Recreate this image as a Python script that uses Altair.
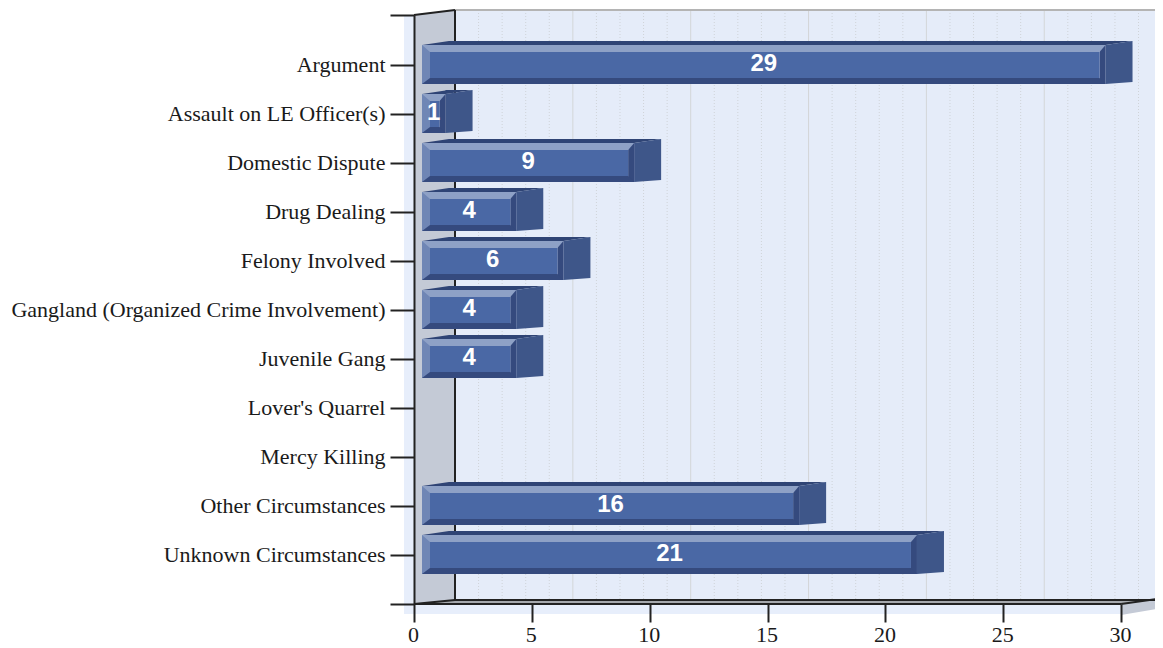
import json
import altair as alt
import pandas as pd

categories = ["Argument", "Assault on LE Officer(s)", "Domestic Dispute", "Drug Dealing",
              "Felony Involved", "Gangland (Organized Crime Involvement)", "Juvenile Gang",
              "Lover's Quarrel", "Mercy Killing", "Other Circumstances", "Unknown Circumstances"]
values = [29, 1, 9, 4, 6, 4, 4, 0, 0, 16, 21]
x_ticks = [0, 5, 10, 15, 20, 25, 30]

PX_PER_X, PX_PER_ROW = 23.57, 49.0
W, H = 741, 589
LEFT, TOP = 414, 15
def X(px): return (px - LEFT) / PX_PER_X
def Y(px): return (px - 65) / PX_PER_ROW

xs = alt.Scale(domain=[0, W / PX_PER_X], nice=False, zero=False)
y_top, y_bot = Y(TOP), Y(TOP + H)
ys = alt.Scale(domain=[y_bot, y_top], nice=False, zero=False)

label_expr = ("datum.value >= 0 && datum.value < %d ? %s[datum.value] : ''"
              % (len(categories), json.dumps(categories)))
y_vals = [y_top] + list(range(len(categories))) + [y_bot]
x_axis = alt.Axis(values=x_ticks, title=None, grid=False, domain=False, tickSize=18,
                  tickWidth=2, tickColor="#222222", labelFont="Liberation Serif", labelFontSize=22,
                  labelColor="#1a1a1a", labelPadding=2, labelOverlap=False, labelFlush=False, format="d",
                  labelOffset=-1, zindex=2)
y_axis = alt.Axis(values=y_vals, title=None, grid=False, domain=True, domainColor="#222222",
                  domainWidth=2, tickSize=24, tickWidth=2, tickColor="#222222", labelFont="Liberation Serif",
                  labelFontSize=22, labelColor="#1a1a1a", labelPadding=5, labelOverlap=False, labelBound=False,
                  labelOffset=-1, labelExpr=label_expr, labelLimit=600, zindex=2)
ex = alt.X("x:Q", scale=xs, axis=x_axis)
ey = alt.Y("y:Q", scale=ys, axis=y_axis, stack=None)

def poly(rows, color):
    df = pd.DataFrame(rows, columns=["g", "x", "y", "y2"])
    return alt.Chart(df).mark_area(color=color, orient="vertical", opacity=1, line=False).encode(
        x=ex, y=ey, y2="y2:Q", detail="g:N")

def rect(rows, color):
    df = pd.DataFrame(rows, columns=["x", "x2", "y", "y2"])
    return alt.Chart(df).mark_rect(color=color).encode(x=ex, x2="x2:Q", y=ey, y2="y2:Q")

def seg(rows, color, width=2, dash=None):
    df = pd.DataFrame(rows, columns=["x", "x2", "y", "y2"])
    kw = {"strokeDash": dash} if dash else {}
    return alt.Chart(df).mark_rule(color=color, strokeWidth=width, **kw).encode(
        x=ex, x2="x2:Q", y=ey, y2="y2:Q")

WALL_DX = X(455)
wall_t, wall_b = Y(10), Y(600)
ax_end = 30
RIGHT = X(1163)
frame = [
    rect([(X(404), ax_end, y_top, Y(614))], "#e7eefb"),
    rect([(WALL_DX, RIGHT, wall_t, wall_b)], "#e5ecf9"),
    seg([(v + WALL_DX, v + WALL_DX, wall_t, wall_b) for v in range(1, 30) if v % 5], "#cfd3d8", 1, [1, 2]),
    seg([(v + WALL_DX, v + WALL_DX, wall_t, wall_b) for v in range(5, 30, 5)], "#d3d6d8", 1),
    poly([("a", 0, y_top, y_bot), ("a", WALL_DX, wall_t, wall_b)], "#c4cad6"),
    poly([("a", 0, y_bot, y_bot), ("a", WALL_DX, wall_b, y_bot), ("a", ax_end, wall_b, y_bot),
          ("a", RIGHT, wall_b, wall_b)], "#a6a9ae"),
    poly([("a", ax_end, y_bot, Y(615)), ("a", RIGHT, Y(598), Y(608))], "#c4cad6"),
    seg([(WALL_DX, RIGHT, wall_t, wall_t)], "#b4b4b4", 2),
    seg([(WALL_DX, WALL_DX, wall_t, wall_b), (0, WALL_DX, y_top, wall_t), (0, WALL_DX, y_bot, wall_b),
         (WALL_DX, RIGHT, wall_b, wall_b), (0, ax_end, y_bot, y_bot), (ax_end, RIGHT, y_bot, Y(598))],
        "#222222", 2),
]

# bars
OFF = X(422)
DEPTH = 27 / PX_PER_X
HALF = 19.5 / PX_PER_ROW
rows = [(i, v) for i, v in enumerate(values) if v > 0]
BT, BB, BL, BR = 7 / PX_PER_ROW, 6 / PX_PER_ROW, 8 / PX_PER_X, 6 / PX_PER_X
RISE, DROP = 4 / PX_PER_ROW, 2 / PX_PER_ROW

side, top_face, left_b, right_b, top_b, bot_b, inner = [], [], [], [], [], [], []
for i, v in rows:
    c = i - 0.5 / PX_PER_ROW
    t, b = c - HALF, c + HALF
    x0, xf = OFF, OFF + v
    side += [(i, xf, t, b), (i, xf + DEPTH, t - RISE, b - DROP)]
    bend = min(x0 + DEPTH, xf - 0.01)
    top_face += [(i, x0, t, t), (i, bend, t - RISE * (bend - x0) / DEPTH, t), (i, xf, t - RISE, t), (i, xf + DEPTH, t - RISE, t - RISE)]
    left_b.append((x0, x0 + BL, t, b))
    right_b.append((xf - BR, xf, t, b))
    top_b += [(i, x0, t, t), (i, x0 + BL, t, t + BT), (i, xf - BR, t, t + BT), (i, xf, t, t)]
    bot_b += [(i, x0, b, b), (i, x0 + BL, b - BB, b), (i, xf - BR, b - BB, b), (i, xf, b, b)]
    inner.append((x0 + BL, xf - BR, t + BT, b - BB))

bars = [
    poly(top_face, "#2f4475"),
    poly(side, "#3e5689"),
    rect(left_b, "#6f86b5"),
    rect(right_b, "#354a7e"),
    poly(top_b, "#8ea1c6"),
    poly(bot_b, "#354a7e"),
    rect(inner, "#4a68a5"),
]

lab = pd.DataFrame([{"x": OFF + v / 2, "y": i - 1.5 / PX_PER_ROW, "t": str(v)} for i, v in rows])
labels = alt.Chart(lab).mark_text(color="white", font="Liberation Sans", fontWeight="bold",
                                  fontSize=24, baseline="middle", align="center").encode(x=ex, y=ey, text="t:N")

chart = alt.layer(*frame, *bars, labels).properties(
    width=W, height=H, padding={"left": LEFT - 8, "top": TOP - 8, "right": 0, "bottom": 44},
    autosize=alt.AutoSizeParams(type="none"), background="white",
).configure_view(stroke=None)

chart.save("out.html", embed_options={"renderer": "svg", "actions": False})
